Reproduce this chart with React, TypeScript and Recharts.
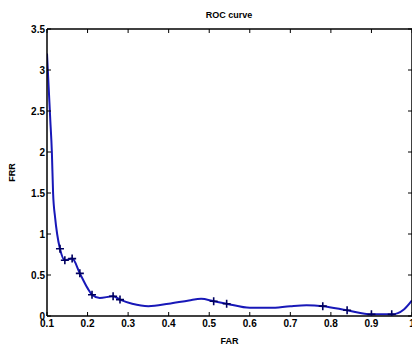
import React from 'react';
import { ComposedChart, Line, Scatter, XAxis, YAxis } from 'recharts';

const farValues = [0.1, 0.104, 0.108, 0.112, 0.115, 0.12, 0.125, 0.132, 0.144, 0.162, 0.181, 0.2, 0.211, 0.23, 0.263, 0.28, 0.31, 0.35, 0.4, 0.45, 0.48, 0.511, 0.543, 0.6, 0.65, 0.7, 0.74, 0.78, 0.84, 0.9, 0.95, 0.98, 1.0];
const frrValues = [3.2, 2.8, 2.4, 2.0, 1.5, 1.2, 1.0, 0.82, 0.68, 0.70, 0.52, 0.34, 0.26, 0.22, 0.24, 0.20, 0.15, 0.12, 0.15, 0.19, 0.21, 0.18, 0.15, 0.10, 0.10, 0.12, 0.13, 0.12, 0.07, 0.02, 0.02, 0.08, 0.19];

const markerFar = [0.132, 0.144, 0.162, 0.181, 0.211, 0.263, 0.28, 0.511, 0.543, 0.78, 0.84, 0.9, 0.95];
const markerFrr = [0.82, 0.68, 0.70, 0.52, 0.26, 0.24, 0.20, 0.18, 0.15, 0.12, 0.07, 0.02, 0.02];

const xTicks = [0.1, 0.2, 0.3, 0.4, 0.5, 0.6, 0.7, 0.8, 0.9, 1.0];
const yTicks = [0, 0.5, 1, 1.5, 2, 2.5, 3, 3.5];

const title = 'ROC curve';
const xLabel = 'FAR';
const yLabel = 'FRR';

const curve = farValues.map((f, i) => ({ far: f, frr: frrValues[i] }));
const markers = markerFar.map((f, i) => ({ far: f, frr: markerFrr[i] }));

const fmt = (v: number) => (v === 0 ? '0' : Number.isInteger(v) ? String(v) : v.toFixed(1));

const tickStyle = { fontFamily: 'Liberation Sans, Arial, sans-serif', fontSize: 10, fontWeight: 'bold' as const, fill: '#000' };

const Plus = (props: any) => {
  const { cx, cy } = props;
  if (cx == null || cy == null) return null;
  return <path d={`M${cx - 4},${cy}h8M${cx},${cy - 4}v8`} stroke="#000060" strokeWidth={1.6} fill="none" />;
};

export default function App() {
  return (
    <div style={{ position: 'absolute', left: 0, top: 0, width: 412, height: 345, background: '#fff', overflow: 'hidden' }}>
      <div style={{ position: 'absolute', left: 0, width: 458, top: 10, textAlign: 'center', fontFamily: 'Liberation Sans, Arial, sans-serif', fontSize: 9, fontWeight: 'bold', color: '#000' }}>
        {title}
      </div>
      <ComposedChart width={414} height={345} margin={{ top: 9, right: 0, bottom: 0, left: 0 }}>
        <XAxis
          xAxisId={0}
          dataKey="far"
          type="number"
          domain={[0.1, 1.0]}
          ticks={xTicks}
          tickFormatter={fmt}
          allowDataOverflow
          height={29}
          tickSize={-4}
          tickMargin={8}
          interval={0}
          tick={tickStyle}
          axisLine={{ stroke: '#000', strokeWidth: 1.5 }}
          tickLine={{ stroke: '#000' }}
          label={{ value: xLabel, position: 'insideBottom', offset: 1, style: { ...tickStyle, fontSize: 9 } }}
        />
        <XAxis
          xAxisId="top"
          orientation="top"
          dataKey="far"
          type="number"
          domain={[0.1, 1.0]}
          ticks={xTicks}
          tickFormatter={() => ''}
          allowDataOverflow
          height={20}
          tickSize={-4}
          interval={0}
          axisLine={{ stroke: '#000', strokeWidth: 1.5 }}
          tickLine={{ stroke: '#000' }}
        />
        <YAxis
          yAxisId={0}
          type="number"
          domain={[0, 3.5]}
          ticks={yTicks}
          tickFormatter={fmt}
          allowDataOverflow
          width={47}
          tickSize={-4}
          tickMargin={6}
          interval={0}
          tick={tickStyle}
          axisLine={{ stroke: '#000', strokeWidth: 1.5 }}
          tickLine={{ stroke: '#000' }}
          label={{ value: yLabel, angle: -90, position: 'insideLeft', offset: 12, style: { ...tickStyle, fontSize: 9, textAnchor: 'middle' } }}
        />
        <YAxis
          yAxisId="right"
          orientation="right"
          type="number"
          domain={[0, 3.5]}
          ticks={yTicks}
          tickFormatter={() => ''}
          allowDataOverflow
          width={2}
          tickSize={-4}
          interval={0}
          axisLine={{ stroke: '#000', strokeWidth: 1.5 }}
          tickLine={{ stroke: '#000' }}
        />
        <Line
          data={curve}
          dataKey="frr"
          type="monotone"
          stroke="#1818b8"
          strokeWidth={2}
          dot={false}
          activeDot={false}
          isAnimationActive={false}
        />
        <Scatter data={markers} dataKey="frr" shape={Plus} isAnimationActive={false} />
      </ComposedChart>
    </div>
  );
}
